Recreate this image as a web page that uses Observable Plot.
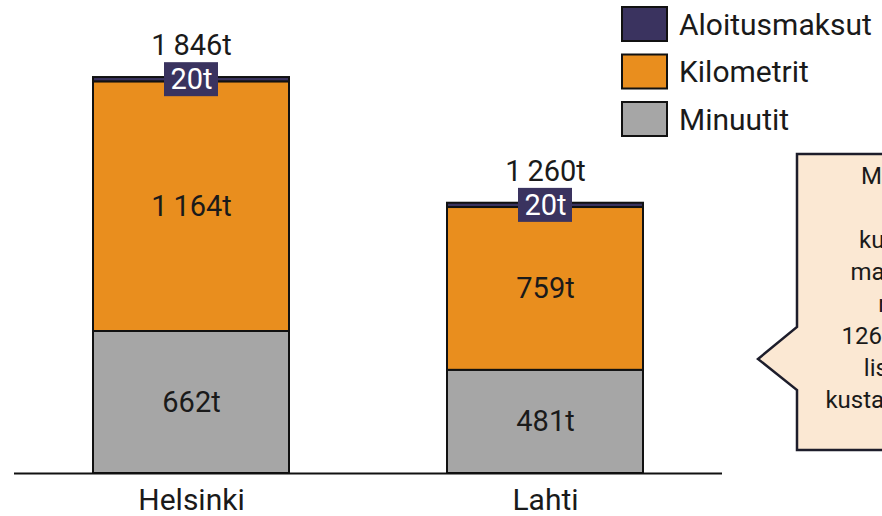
<!DOCTYPE html>
<html>
<head>
<meta charset="utf-8">
<script src="https://cdn.jsdelivr.net/npm/d3@7"></script>
<script src="https://cdn.jsdelivr.net/npm/@observablehq/plot@0.6"></script>
<style>
  html, body { margin: 0; padding: 0; background: #fff; }
  #chart { width: 882px; height: 516px; overflow: hidden; position: relative; }
  svg { font-family: Roboto, "Noto Sans", sans-serif; }
</style>
</head>
<body>
<div id="chart"></div>
<script>
// ---- data ----
const cities = ["Helsinki", "Lahti"];
const categories = ["Minuutit", "Kilometrit", "Aloitusmaksut"];
const minuutit = [662, 481];
const kilometrit = [1164, 759];
const aloitusmaksut = [20, 20];
const totals = [1846, 1260];
const colors = ["#a6a6a6", "#e98e1e", "#3a335f"];
const legendOrder = ["Aloitusmaksut", "Kilometrit", "Minuutit"];
const calloutLines = ["Mikäli ei", "jos", "kuluttaja", "maksaisin", "reitin", "1260 tonnin", "lisäävät", "kustannuksiksi"];

// ---- derived table ----
const series = [minuutit, kilometrit, aloitusmaksut];
const rows = [];
cities.forEach((city, i) => {
  let base = 0;
  categories.forEach((cat, j) => {
    const v = series[j][i];
    rows.push({city, cat, value: v, y1: base, y2: base + v, mid: base + v / 2});
    base += v;
  });
});
const totalRows = cities.map((city, i) => ({city, total: totals[i]}));
const fmt = v => String(v).replace(/\B(?=(\d{3})+(?!\d))/g, "\u2009") + "t";

const ink = "#1a1a1a";
const plot = Plot.plot({
  width: 882,
  height: 516,
  marginLeft: 14,
  marginRight: 160,
  marginTop: 44,
  marginBottom: 43,
  style: {fontFamily: "Roboto, 'Noto Sans', sans-serif", background: "transparent"},
  x: {domain: cities, paddingInner: 0.445, paddingOuter: 0.22, label: null},
  y: {domain: [0, 2000], axis: null},
  color: {domain: categories, range: colors},
  marks: [
    Plot.barY(rows, {x: "city", y1: "y1", y2: "y2", fill: "cat", stroke: "#111", strokeWidth: 2}),
    Plot.ruleY([0], {stroke: "#111", strokeWidth: 2}),
    Plot.axisX({tickSize: 0, tickPadding: 15, fontSize: 30, fill: ink, label: null}),
    // labels for Minuutit and Kilometrit
    Plot.text(rows.filter(d => d.cat !== "Aloitusmaksut"), {x: "city", y: "mid", text: d => fmt(d.value), fontSize: 29, fill: ink}),
    // Aloitusmaksut label boxes
    Plot.barY(rows.filter(d => d.cat === "Aloitusmaksut"), {x: "city", y1: "mid", y2: "mid", fill: "#3a335f", insetLeft: 71, insetRight: 71, insetTop: -17, insetBottom: -17}),
    Plot.text(rows.filter(d => d.cat === "Aloitusmaksut"), {x: "city", y: "mid", text: d => fmt(d.value), fontSize: 29, fill: "#fff"}),
    // totals
    Plot.text(totalRows, {x: "city", y: "total", text: d => fmt(d.total), dy: -32, fontSize: 29, fill: ink})
  ]
});
document.getElementById("chart").appendChild(plot);

const svg = d3.select(plot);

// ---- legend ----
const lg = svg.append("g").attr("class", "legend").attr("text-anchor", "start");
legendOrder.forEach((name, i) => {
  const y0 = 7 + i * 47.5;
  lg.append("rect").attr("x", 622).attr("y", y0).attr("width", 45).attr("height", 34)
    .attr("fill", colors[categories.indexOf(name)]).attr("stroke", "#111").attr("stroke-width", 2);
  lg.append("text").attr("x", 679).attr("y", y0 + 17).attr("dy", "0.35em")
    .attr("text-anchor", "start").attr("font-size", 30).attr("fill", ink).text(name);
});

// ---- callout ----
const co = svg.append("g").attr("class", "callout");
co.append("path")
  .attr("d", "M797,154 L1010,154 L1010,450 L797,450 L797,390 L758,359 L797,327 Z")
  .attr("fill", "#fbe8d3").attr("stroke", "#1d1d2b").attr("stroke-width", 2.5).attr("stroke-linejoin", "miter");
calloutLines.forEach((t, i) => {
  co.append("text").attr("x", 905).attr("y", 176 + i * 32).attr("dy", "0.35em")
    .attr("text-anchor", "middle").attr("font-size", 24).attr("fill", ink).text(t);
});
</script>
</body>
</html>
